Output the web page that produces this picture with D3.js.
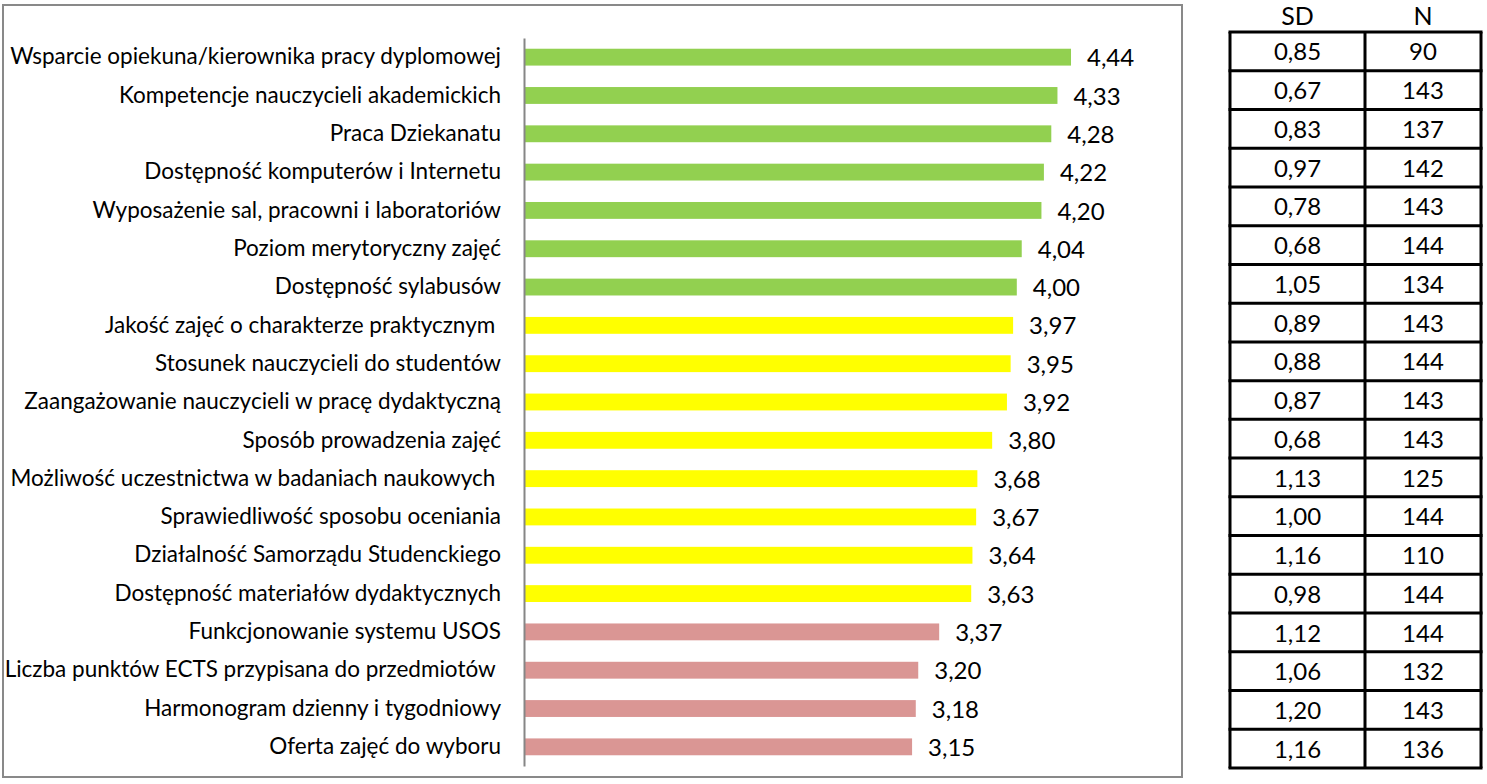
<!DOCTYPE html>
<html>
<head>
<meta charset="utf-8">
<script src="https://cdn.jsdelivr.net/npm/d3@7"></script>
<style>
  html, body { margin: 0; padding: 0; background: #fff; }
  svg { display: block; }
  text { font-family: Lato, "Open Sans", sans-serif; fill: #000; white-space: pre; }
</style>
</head>
<body>
<svg id="chart" width="1487" height="784"></svg>
<script>
// Survey items, mean ratings, standard deviations and respondent counts
const categories = [
  "Wsparcie opiekuna/kierownika pracy dyplomowej",
  "Kompetencje nauczycieli akademickich",
  "Praca Dziekanatu",
  "Dostępność komputerów i Internetu",
  "Wyposażenie sal, pracowni i laboratoriów",
  "Poziom merytoryczny zajęć",
  "Dostępność sylabusów",
  "Jakość zajęć o charakterze praktycznym ",
  "Stosunek nauczycieli do studentów",
  "Zaangażowanie nauczycieli w pracę dydaktyczną",
  "Sposób prowadzenia zajęć",
  "Możliwość uczestnictwa w badaniach naukowych ",
  "Sprawiedliwość sposobu oceniania",
  "Działalność Samorządu Studenckiego",
  "Dostępność materiałów dydaktycznych",
  "Funkcjonowanie systemu USOS",
  "Liczba punktów ECTS przypisana do przedmiotów ",
  "Harmonogram dzienny i tygodniowy",
  "Oferta zajęć do wyboru"
];
const means = [4.44, 4.33, 4.28, 4.22, 4.20, 4.04, 4.00, 3.97, 3.95, 3.92, 3.80, 3.68, 3.67, 3.64, 3.63, 3.37, 3.20, 3.18, 3.15];
const sdValues = ["0,85", "0,67", "0,83", "0,97", "0,78", "0,68", "1,05", "0,89", "0,88", "0,87", "0,68", "1,13", "1,00", "1,16", "0,98", "1,12", "1,06", "1,20", "1,16"];
const nValues = ["90", "143", "137", "142", "143", "144", "134", "143", "144", "143", "143", "125", "144", "110", "144", "144", "132", "143", "136"];
const tableHeaders = ["SD", "N"];
// Rating bands: below 3.5, 3.5–4.0, 4.0 and above
const bandThresholds = [3.5, 4.0];
const bandColors = ["#DA9694", "#FFFF00", "#92D050"];

const svg = d3.select("#chart");
const fmt = v => d3.format(".2f")(v).replace(".", ",");

// Chart frame
svg.append("rect")
  .attr("x", 3).attr("y", 5).attr("width", 1179).attr("height", 772)
  .attr("fill", "#fff").attr("stroke", "#898989").attr("stroke-width", 2);

const x = d3.scaleLinear().domain([0, 5]).range([524, 1140]);
const y = d3.scaleBand().domain(categories).range([38, 766]).paddingInner(0.56).paddingOuter(0.28);
const color = d3.scaleThreshold().domain(bandThresholds).range(bandColors);

const rows = categories.map((c, i) => ({ c, v: means[i] }));

// Bars
svg.append("g").selectAll("rect").data(rows).join("rect")
  .attr("x", x(0))
  .attr("y", d => y(d.c))
  .attr("width", d => x(d.v) - x(0))
  .attr("height", y.bandwidth())
  .attr("fill", d => color(d.v));

// Category axis (line only, labels drawn to its left)
const yAxis = svg.append("g").attr("transform", `translate(${x(0)},0)`)
  .call(d3.axisLeft(y).tickSize(0).tickPadding(23).tickSizeOuter(0));
yAxis.select(".domain").attr("stroke", "#868686").attr("stroke-width", 2);
yAxis.selectAll("text")
  .attr("font-family", "Lato, 'Open Sans', sans-serif")
  .attr("font-size", 20)
  .attr("fill", "#000")
  .style("white-space", "pre");

// Size category labels so the first one spans the left margin
const firstWidth = yAxis.select(".tick text").node().getComputedTextLength();
const labelSize = 20 * 491 / firstWidth;
yAxis.selectAll("text").attr("font-size", labelSize);

// Value labels
svg.append("g").selectAll("text").data(rows).join("text")
  .attr("x", d => x(d.v) + 16)
  .attr("y", d => y(d.c) + y.bandwidth() / 2)
  .attr("dy", "0.38em")
  .attr("font-size", 24)
  .text(d => fmt(d.v));

// Side table with SD and N
const colEdges = [1230, 1365, 1481];
const rowScale = d3.scaleBand().domain(d3.range(categories.length)).range([32, 768]);
const table = svg.append("g");

table.selectAll("text.head").data(tableHeaders).join("text")
  .attr("class", "head")
  .attr("x", (d, i) => (colEdges[i] + colEdges[i + 1]) / 2)
  .attr("y", 15)
  .attr("dy", "0.38em")
  .attr("text-anchor", "middle")
  .attr("font-size", 25)
  .text(d => d);

const cols = [sdValues, nValues];
cols.forEach((vals, ci) => {
  table.append("g").selectAll("text").data(vals).join("text")
    .attr("x", (colEdges[ci] + colEdges[ci + 1]) / 2)
    .attr("y", (d, i) => rowScale(i) + rowScale.bandwidth() / 2)
    .attr("dy", "0.38em")
    .attr("text-anchor", "middle")
    .attr("font-size", 24)
    .text(d => d);
});

// Grid lines of the table
table.append("g").selectAll("line").data(d3.range(categories.length + 1)).join("line")
  .attr("x1", colEdges[0] - 1.5).attr("x2", colEdges[2] + 1.5)
  .attr("y1", i => i < categories.length ? rowScale(i) : rowScale.range()[1])
  .attr("y2", i => i < categories.length ? rowScale(i) : rowScale.range()[1])
  .attr("stroke", "#000").attr("stroke-width", 3);
table.append("g").selectAll("line").data(colEdges).join("line")
  .attr("x1", d => d).attr("x2", d => d)
  .attr("y1", rowScale.range()[0]).attr("y2", rowScale.range()[1])
  .attr("stroke", "#000").attr("stroke-width", 3);
</script>
</body>
</html>
